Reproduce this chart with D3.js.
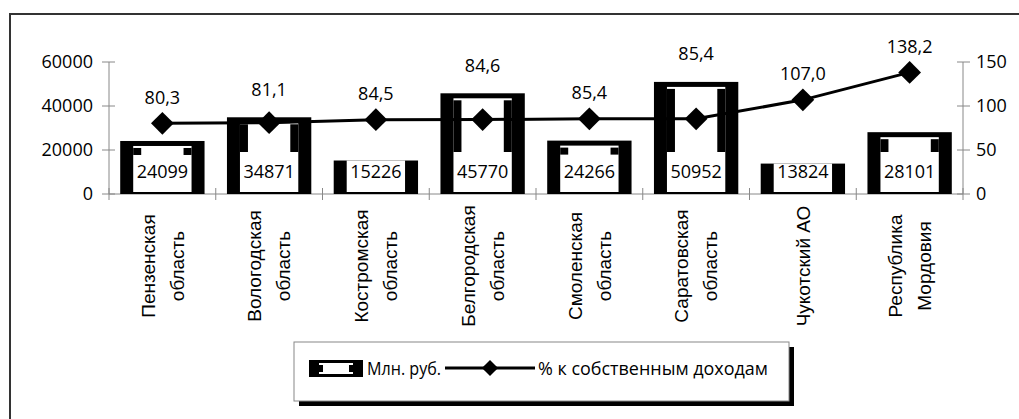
<!DOCTYPE html>
<html lang="ru">
<head>
  <meta charset="UTF-8">
  <title>Chart</title>
  <style>
    body { margin: 0; background: #fff; }
    svg { display: block; }
    .num { font-family: "Open Sans", sans-serif; font-size: 18px; fill: #000; }
    .leg { font-family: "Open Sans", sans-serif; font-size: 18px; fill: #000; }
    .cat { font-family: "Liberation Sans", Arial, sans-serif; font-size: 19px; fill: #000; }
  </style>
</head>
<body>
  <svg></svg>
  <script src="https://d3js.org/d3.v7.min.js"></script>
  <script>
    var regions = [
      ["Пензенская", "область"],
      ["Вологодская", "область"],
      ["Костромская", "область"],
      ["Белгородская", "область"],
      ["Смоленская", "область"],
      ["Саратовская", "область"],
      ["Чукотский АО"],
      ["Республика", "Мордовия"]
    ];
    var mlnRub = [24099, 34871, 15226, 45770, 24266, 50952, 13824, 28101];
    var percent = [80.3, 81.1, 84.5, 84.6, 85.4, 85.4, 107.0, 138.2];
    var leftTicks = [0, 20000, 40000, 60000];
    var rightTicks = [0, 50, 100, 150];
    var legendLabels = ["Млн. руб.", "% к собственным доходам"];

    var width = 1019;
    var height = 419;
    var plotL = 109, plotR = 963, plotT = 62, plotB = 194;

    var svg = d3.select("svg")
        .attr("width", width)
        .attr("height", height);

    // outer frame (top + left only visible)
    svg.append("path")
        .attr("d", "M10,420 V14 H1019")
        .attr("fill", "none")
        .attr("stroke", "#333")
        .attr("stroke-width", 2);

    var idx = d3.range(regions.length);
    var x = d3.scaleBand()
        .domain(idx)
        .range([plotL, plotR])
        .paddingInner(0.21)
        .paddingOuter(0.105);

    var y = d3.scaleLinear().domain([0, 60000]).range([plotB, plotT]);
    var y2 = d3.scaleLinear().domain([0, 150]).range([plotB, plotT]);
    var step = (plotR - plotL) / regions.length;

    // axes
    var axisColor = "#888";
    svg.append("line")
        .attr("x1", plotL).attr("x2", plotL)
        .attr("y1", y(60000)).attr("y2", y(0))
        .attr("stroke", axisColor);
    svg.append("line")
        .attr("x1", plotR).attr("x2", plotR)
        .attr("y1", y2(150)).attr("y2", y2(0))
        .attr("stroke", axisColor);
    svg.append("line")
        .attr("x1", plotL).attr("x2", plotR)
        .attr("y1", plotB).attr("y2", plotB)
        .attr("stroke", axisColor);

    svg.selectAll(".lt")
      .data(leftTicks)
      .enter()
      .append("line")
        .attr("x1", plotL - 7).attr("x2", plotL + 6)
        .attr("y1", d => y(d)).attr("y2", d => y(d))
        .attr("stroke", axisColor);
    svg.selectAll(".ltl")
      .data(leftTicks)
      .enter()
      .append("text")
        .attr("class", "num")
        .attr("x", plotL - 16)
        .attr("y", d => y(d))
        .attr("dy", "0.35em")
        .attr("text-anchor", "end")
        .text(d => d);

    svg.selectAll(".rt")
      .data(rightTicks)
      .enter()
      .append("line")
        .attr("x1", plotR - 6).attr("x2", plotR + 7)
        .attr("y1", d => y2(d)).attr("y2", d => y2(d))
        .attr("stroke", axisColor);
    svg.selectAll(".rtl")
      .data(rightTicks)
      .enter()
      .append("text")
        .attr("class", "num")
        .attr("x", plotR + 13)
        .attr("y", d => y2(d))
        .attr("dy", "0.35em")
        .text(d => d);

    svg.selectAll(".bt")
      .data(d3.range(regions.length + 1))
      .enter()
      .append("line")
        .attr("x1", d => plotL + d * step).attr("x2", d => plotL + d * step)
        .attr("y1", plotB - 6).attr("y2", plotB + 6)
        .attr("stroke", axisColor);

    // bars: black frame with white inside (short bars are open at the top)
    var barH = i => plotB - y(mlnRub[i]);
    var isShort = i => barH(i) < 45;
    var notchH = i => Math.max(7, barH(i) - 49);
    var bars = svg.selectAll(".bar")
      .data(idx)
      .enter()
      .append("g");
    bars.append("rect")
        .attr("x", i => x(i))
        .attr("y", i => y(mlnRub[i]))
        .attr("width", x.bandwidth())
        .attr("height", barH)
        .attr("fill", "#000");
    bars.append("rect")
        .attr("x", i => x(i) + 13)
        .attr("y", i => y(mlnRub[i]) + (isShort(i) ? 0 : 5))
        .attr("width", x.bandwidth() - 26)
        .attr("height", i => barH(i) - (isShort(i) ? 2 : 7))
        .attr("fill", "#fff");
    var notched = bars.filter(i => !isShort(i));
    notched.append("rect")
        .attr("x", i => x(i) + 13)
        .attr("y", i => y(mlnRub[i]) + 7)
        .attr("width", 8)
        .attr("height", notchH)
        .attr("fill", "#000");
    notched.append("rect")
        .attr("x", i => x(i) + x.bandwidth() - 21)
        .attr("y", i => y(mlnRub[i]) + 7)
        .attr("width", 8)
        .attr("height", notchH)
        .attr("fill", "#000");
    bars.append("text")
        .attr("class", "num")
        .attr("x", i => x(i) + x.bandwidth() / 2)
        .attr("y", 172)
        .attr("dy", "0.35em")
        .attr("text-anchor", "middle")
        .text(i => mlnRub[i]);

    // line
    var cx = i => x(i) + x.bandwidth() / 2;
    svg.append("path")
        .datum(idx)
        .attr("d", d3.line().x(cx).y(i => y2(percent[i])))
        .attr("fill", "none")
        .attr("stroke", "#000")
        .attr("stroke-width", 3);
    svg.selectAll(".mk")
      .data(idx)
      .enter()
      .append("path")
        .attr("d", d3.symbol().type(d3.symbolSquare).size(260))
        .attr("transform", i => "translate(" + cx(i) + "," + y2(percent[i]) + ") rotate(45)")
        .attr("fill", "#000");
    svg.selectAll(".pl")
      .data(idx)
      .enter()
      .append("text")
        .attr("class", "num")
        .attr("x", cx)
        .attr("y", i => Math.min(y2(percent[i]) - 26, y(mlnRub[i]) - 28))
        .attr("dy", "0.35em")
        .attr("text-anchor", "middle")
        .text(i => d3.format(".1f")(percent[i]).replace(".", ","));

    // category labels
    var cats = svg.selectAll(".cat")
      .data(idx)
      .enter()
      .append("text")
        .attr("class", "cat")
        .attr("text-anchor", "middle")
        .attr("transform", i => "translate(" + (plotL + (i + 0.5) * step) + ",266) rotate(-90)");
    cats.selectAll("tspan")
      .data(i => regions[i].map((t, k) => ({t: t, k: k, n: regions[i].length})))
      .enter()
      .append("tspan")
        .attr("x", 0)
        .attr("y", d => (d.k - (d.n - 1) / 2) * 29)
        .attr("dy", "0.35em")
        .text(d => d.t);

    // legend
    var lg = svg.append("g");
    lg.append("rect")
        .attr("x", 299).attr("y", 347)
        .attr("width", 495).attr("height", 59)
        .attr("fill", "#000");
    lg.append("rect")
        .attr("x", 294).attr("y", 342)
        .attr("width", 495).attr("height", 59)
        .attr("fill", "#fff")
        .attr("stroke", "#888");
    lg.append("rect")
        .attr("x", 309).attr("y", 360)
        .attr("width", 54).attr("height", 17)
        .attr("fill", "#000");
    lg.append("rect")
        .attr("x", 319).attr("y", 363)
        .attr("width", 34).attr("height", 11)
        .attr("fill", "#fff");
    lg.append("rect")
        .attr("x", 319).attr("y", 365)
        .attr("width", 4).attr("height", 7)
        .attr("fill", "#000");
    lg.append("rect")
        .attr("x", 349).attr("y", 365)
        .attr("width", 4).attr("height", 7)
        .attr("fill", "#000");
    lg.append("text")
        .attr("class", "leg")
        .attr("x", 367).attr("y", 369)
        .attr("dy", "0.35em")
        .attr("textLength", 74)
        .attr("lengthAdjust", "spacingAndGlyphs")
        .text(legendLabels[0]);
    lg.append("line")
        .attr("x1", 445).attr("x2", 535)
        .attr("y1", 368).attr("y2", 368)
        .attr("stroke", "#000").attr("stroke-width", 3);
    lg.append("path")
        .attr("d", d3.symbol().type(d3.symbolSquare).size(130))
        .attr("transform", "translate(490,368) rotate(45)")
        .attr("fill", "#000");
    lg.append("text")
        .attr("class", "leg")
        .attr("x", 538).attr("y", 369)
        .attr("dy", "0.35em")
        .attr("textLength", 230)
        .attr("lengthAdjust", "spacingAndGlyphs")
        .text(legendLabels[1]);
  </script>
</body>
</html>
